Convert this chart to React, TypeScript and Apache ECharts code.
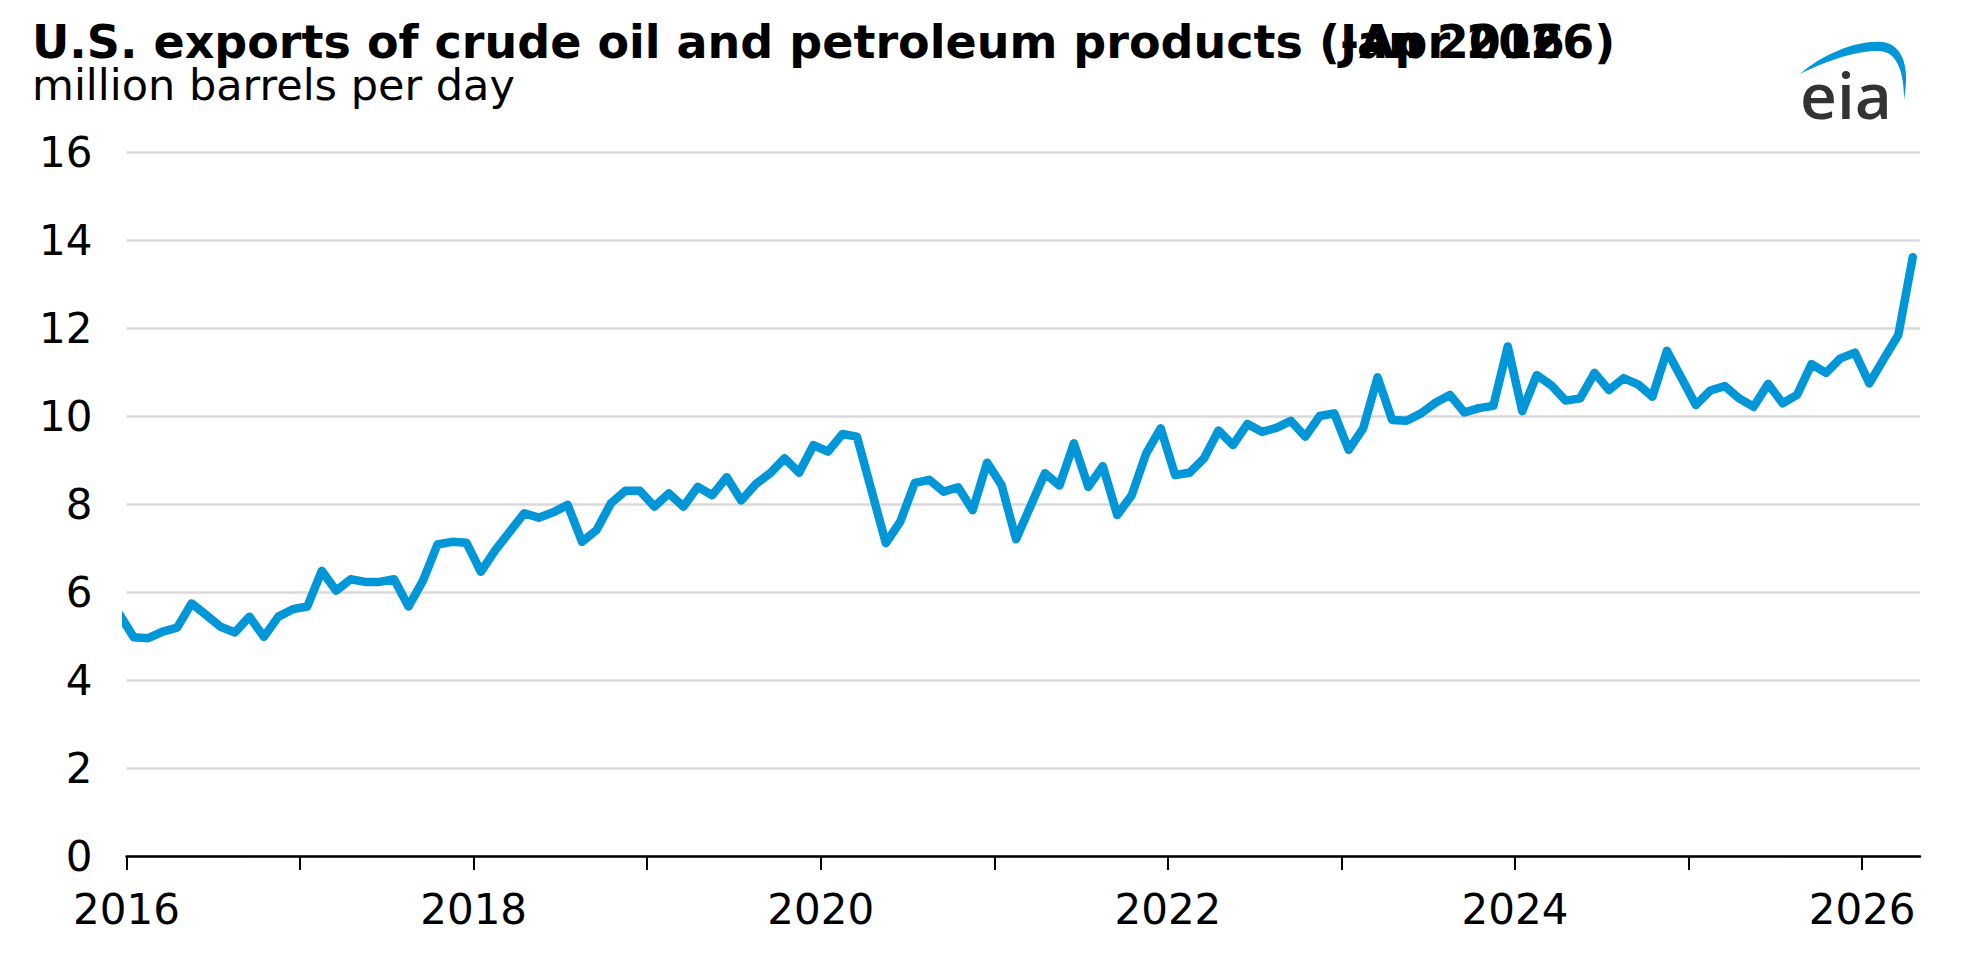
import React, { useEffect, useRef } from "react";
import * as echarts from "echarts";

// ---- data (million barrels per day), monthly ----
const exportsDec2015 = [5.5];
const exports2016 = [4.97, 4.95, 5.1, 5.19, 5.74, 5.48, 5.21, 5.08, 5.44, 4.98, 5.44, 5.61];
const exports2017 = [5.67, 6.48, 6.03, 6.29, 6.23, 6.23, 6.29, 5.67, 6.26, 7.08, 7.14, 7.12];
const exports2018 = [6.46, 6.95, 7.37, 7.79, 7.69, 7.81, 7.98, 7.14, 7.41, 8.02, 8.3, 8.3];
const exports2019 = [7.94, 8.24, 7.94, 8.39, 8.2, 8.61, 8.08, 8.45, 8.7, 9.04, 8.71, 9.34];
const exports2020 = [9.19, 9.59, 9.53, 8.32, 7.11, 7.6, 8.48, 8.55, 8.28, 8.38, 7.86, 8.94];
const exports2021 = [8.43, 7.2, 7.95, 8.7, 8.42, 9.38, 8.39, 8.86, 7.75, 8.2, 9.15, 9.72];
const exports2022 = [8.66, 8.71, 9.04, 9.67, 9.34, 9.82, 9.64, 9.73, 9.89, 9.53, 10.0, 10.06];
const exports2023 = [9.23, 9.72, 10.88, 9.91, 9.89, 10.06, 10.3, 10.48, 10.08, 10.18, 10.23, 11.58];
const exports2024 = [10.11, 10.93, 10.7, 10.35, 10.4, 10.98, 10.59, 10.86, 10.72, 10.44, 11.48, 10.87];
const exports2025 = [10.25, 10.58, 10.68, 10.4, 10.21, 10.73, 10.29, 10.48, 11.18, 10.98, 11.31, 11.44];
const exports2026 = [10.74, 11.3, 11.84, 13.61];

const yearlySeries: [number, number[]][] = [
  [2016, exports2016],
  [2017, exports2017],
  [2018, exports2018],
  [2019, exports2019],
  [2020, exports2020],
  [2021, exports2021],
  [2022, exports2022],
  [2023, exports2023],
  [2024, exports2024],
  [2025, exports2025],
  [2026, exports2026],
];

const xTickYears = [2016, 2017, 2018, 2019, 2020, 2021, 2022, 2023, 2024, 2025, 2026];
const xLabelYears = [2016, 2018, 2020, 2022, 2024, 2026];
const yTicks = [0, 2, 4, 6, 8, 10, 12, 14, 16];

const titleMain = "U.S. exports of crude oil and petroleum products (";
const titleStart = "Jan 2016";
const titleEnd = "-Apr 2026)";
const subtitle = "million barrels per day";

const FONT = "'DejaVu Sans', Verdana, sans-serif";
const BLUE = "#0096d7";

const swooshPath =
  "M0 34 C25 12 60 0 82 2 C100 4 111 22 104 60 C104 30 96 12 80 11 C58 10 28 20 0 34 Z";
let registered = false;
function ensureShapes() {
  if (registered) return;
  registered = true;
  echarts.graphic.registerShape("eiaSwoosh", echarts.graphic.extendPath(swooshPath, {}));
}

function buildData(): [number, number][] {
  const out: [number, number][] = [];
  exportsDec2015.forEach((v) => out.push([2015 + 11.5 / 12, v]));
  yearlySeries.forEach(([year, vals]) => {
    vals.forEach((v, i) => out.push([year + (i + 0.5) / 12, v]));
  });
  return out;
}

function measure(text: string, font: string): number {
  const c = document.createElement("canvas").getContext("2d");
  if (!c) return text.length * 26;
  c.font = font;
  return c.measureText(text).width;
}

export default function App() {
  const ref = useRef<HTMLDivElement>(null);

  useEffect(() => {
    document.body.style.margin = "0";
    ensureShapes();
    if (!ref.current) return;
    const chart = echarts.init(ref.current, undefined, { renderer: "svg" });

    const titleX = 32;
    const titleFontPx = 46;
    const titleY = 42;
    const w1 = measure(titleMain, `bold ${titleFontPx}px 'DejaVu Sans'`);

    const titleStyle = (text: string) => ({
      text,
      font: `bold ${titleFontPx}px ${FONT}`,
      lineHeight: 46,
      fill: "#000",
      verticalAlign: "middle",
      align: "left",
    });

    const option: any = {
      animation: false,
      backgroundColor: "#ffffff",
      grid: { left: 126.5, right: 62, top: 152, bottom: 107, containLabel: false },
      xAxis: {
        type: "value",
        min: 2016,
        max: 2026 + 4 / 12,
        axisLine: { show: true, onZero: false, lineStyle: { color: "#000", width: 2.5 } },
        axisTick: {
          show: true,
          customValues: xTickYears,
          length: 14,
          lineStyle: { color: "#000", width: 2 },
        },
        axisLabel: {
          customValues: xLabelYears,
          formatter: (v: number) => String(Math.round(v)),
          fontSize: 42,
          fontFamily: FONT,
          color: "#000",
          margin: 32,
        },
        splitLine: { show: false },
      },
      yAxis: {
        type: "value",
        min: yTicks[0],
        max: yTicks[yTicks.length - 1],
        interval: 2,
        axisLine: { show: false },
        axisTick: { show: false },
        axisLabel: { fontSize: 42, fontFamily: FONT, color: "#000", margin: 34 },
        splitLine: { show: true, lineStyle: { color: "#d9d9d9", width: 2.5 } },
      },
      series: [
        {
          type: "line",
          data: buildData(),
          symbol: "none",
          showSymbol: false,
          clip: true,
          silent: true,
          lineStyle: { color: BLUE, width: 8.5, join: "round", cap: "round" },
        },
      ],
      graphic: [
        { type: "text", x: titleX, y: titleY, style: titleStyle(titleMain) },
        { type: "text", x: titleX + w1, y: titleY, style: titleStyle(titleStart) },
        { type: "text", x: titleX + w1, y: titleY, style: titleStyle(titleEnd) },
        {
          type: "text",
          x: titleX,
          y: 85,
          style: {
            text: subtitle,
            font: `43px ${FONT}`,
            lineHeight: 40,
            fill: "#000",
            verticalAlign: "middle",
            align: "left",
          },
        },
        {
          type: "eiaSwoosh",
          x: 1800,
          y: 40,
          style: { fill: BLUE },
        },
        {
          type: "text",
          x: 1800,
          y: 94,
          style: {
            text: "eia",
            font: `600 64px 'Open Sans', sans-serif`,
            fill: "#333333",
            verticalAlign: "middle",
            align: "left",
          },
        },
      ],
    };

    chart.setOption(option);
    return () => {
      chart.dispose();
    };
  }, []);

  return (
    <div
      ref={ref}
      style={{ position: "absolute", left: 0, top: 0, width: "1982px", height: "963px", background: "#fff" }}
    />
  );
}
